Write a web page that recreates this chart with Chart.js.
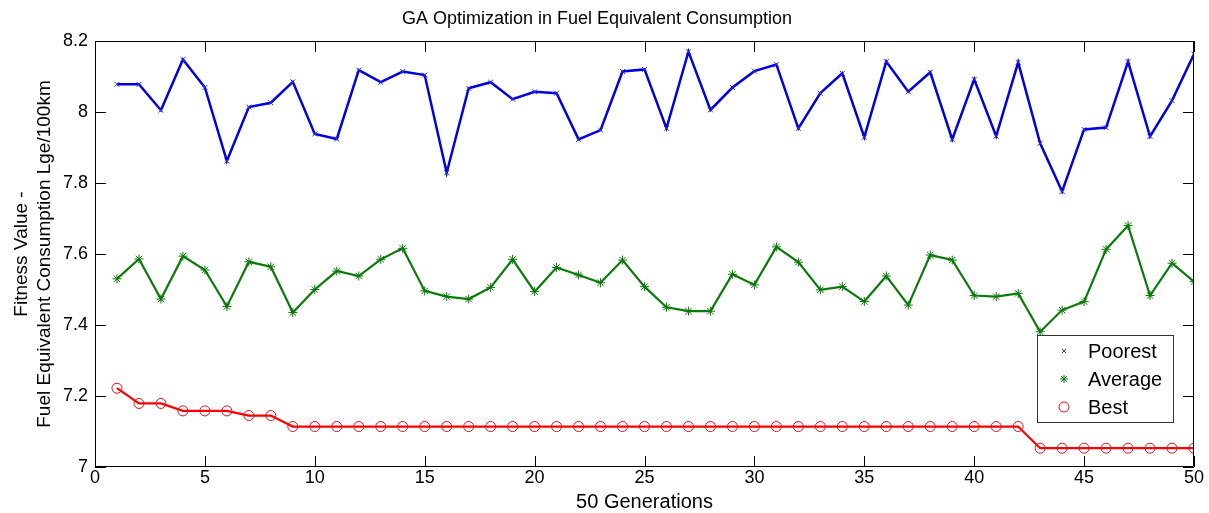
<!DOCTYPE html>
<html>
<head>
<meta charset="utf-8">
<title>GA Optimization in Fuel Equivalent Consumption</title>
<script src="https://cdn.jsdelivr.net/npm/chart.js@4.4.0/dist/chart.umd.min.js"></script>
<style>
  html, body { margin: 0; padding: 0; background: #fff; }
  #wrap { width: 1209px; height: 513px; position: relative; }
</style>
</head>
<body>
<div id="wrap"><canvas id="grafico"></canvas></div>
<script>
// datos
const generaciones = [1, 2, 3, 4, 5, 6, 7, 8, 9, 10, 11, 12, 13, 14, 15, 16, 17, 18, 19, 20, 21, 22, 23, 24, 25,
    26, 27, 28, 29, 30, 31, 32, 33, 34, 35, 36, 37, 38, 39, 40, 41, 42, 43, 44, 45, 46, 47, 48, 49, 50];

const peor = [8.078, 8.078, 8.005, 8.148, 8.069, 7.862, 8.014, 8.026, 8.085, 7.938,
    7.924, 8.118, 8.084, 8.114, 8.104, 7.829, 8.067, 8.084, 8.036, 8.057,
    8.053, 7.923, 7.949, 8.114, 8.120, 7.954, 8.170, 8.006, 8.069, 8.115,
    8.134, 7.954, 8.053, 8.109, 7.929, 8.142, 8.057, 8.112, 7.923, 8.092,
    7.932, 8.140, 7.912, 7.776, 7.951, 7.956, 8.142, 7.931, 8.032, 8.163];

const promedio = [7.530, 7.586, 7.473, 7.594, 7.555, 7.452, 7.578, 7.564, 7.435, 7.500,
    7.552, 7.538, 7.585, 7.616, 7.496, 7.480, 7.473, 7.506, 7.585, 7.494,
    7.562, 7.541, 7.519, 7.583, 7.508, 7.450, 7.439, 7.439, 7.543, 7.513,
    7.620, 7.577, 7.499, 7.508, 7.466, 7.538, 7.456, 7.597, 7.583, 7.483,
    7.480, 7.489, 7.381, 7.442, 7.466, 7.613, 7.680, 7.483, 7.574, 7.522];

const mejor = [7.222, 7.179, 7.179, 7.158, 7.158, 7.158, 7.145, 7.145, 7.114, 7.114,
    7.114, 7.114, 7.114, 7.114, 7.114, 7.114, 7.114, 7.114, 7.114, 7.114,
    7.114, 7.114, 7.114, 7.114, 7.114, 7.114, 7.114, 7.114, 7.114, 7.114,
    7.114, 7.114, 7.114, 7.114, 7.114, 7.114, 7.114, 7.114, 7.114, 7.114,
    7.114, 7.114, 7.053, 7.053, 7.053, 7.053, 7.053, 7.053, 7.053, 7.053];

const ticksX = [0, 5, 10, 15, 20, 25, 30, 35, 40, 45, 50];
const ticksY = [7, 7.2, 7.4, 7.6, 7.8, 8, 8.2];

const fuente = 'Arial, "Liberation Sans", Helvetica, sans-serif';

function puntos(valores) {
    return valores.map((v, i) => ({ x: generaciones[i], y: v }));
}

// caja estilo matlab con ticks hacia adentro
const cajaEjes = {
    id: 'cajaEjes',
    afterDatasetsDraw(chart) {
        const { ctx, chartArea: a, scales } = chart;
        const largo = 11;
        ctx.save();
        ctx.strokeStyle = '#000';
        ctx.lineWidth = 1;
        ctx.beginPath();
        ctx.rect(a.left + 0.5, a.top + 0.5, a.right - a.left - 1, a.bottom - a.top - 1);
        ticksX.forEach(t => {
            const px = Math.round(scales.x.getPixelForValue(t)) + 0.5;
            ctx.moveTo(px, a.bottom);
            ctx.lineTo(px, a.bottom - largo);
            ctx.moveTo(px, a.top);
            ctx.lineTo(px, a.top + largo);
        });
        ticksY.forEach(t => {
            const py = Math.round(scales.y.getPixelForValue(t)) + 0.5;
            ctx.moveTo(a.left, py);
            ctx.lineTo(a.left + largo, py);
            ctx.moveTo(a.right, py);
            ctx.lineTo(a.right - largo, py);
        });
        ctx.stroke();
        ctx.restore();
    }
};

// leyenda dentro del area, abajo a la derecha
const leyenda = {
    id: 'leyenda',
    afterDraw(chart) {
        const { ctx, chartArea: a } = chart;
        const ancho = 136, alto = 87;
        const x0 = a.right - 21 - ancho;
        const y0 = a.bottom - 45 - alto;
        ctx.save();
        ctx.fillStyle = '#fff';
        ctx.fillRect(x0, y0, ancho, alto);
        ctx.strokeStyle = '#333';
        ctx.lineWidth = 1;
        ctx.strokeRect(x0 + 0.5, y0 + 0.5, ancho, alto);
        ctx.font = '20px ' + fuente;
        ctx.textBaseline = 'middle';
        ctx.textAlign = 'left';
        chart.data.datasets.forEach((ds, i) => {
            const yy = y0 + 16 + i * 28;
            ctx.strokeStyle = ds.pointBorderColor;
            ctx.fillStyle = 'rgba(0,0,0,0)';
            ctx.lineWidth = 1;
            Chart.helpers.drawPoint(ctx, {
                pointStyle: ds.pointStyle,
                radius: ds.legendRadius,
                borderWidth: 1,
                rotation: 0
            }, x0 + 27, yy);
            ctx.fillStyle = '#000';
            ctx.fillText(ds.label, x0 + 51, yy + 1);
        });
        ctx.restore();
    }
};

function crearGrafico() {
    const ctx = document.getElementById('grafico').getContext('2d');
    return new Chart(ctx, {
        type: 'line',
        data: {
            datasets: [
                {
                    label: 'Poorest',
                    data: puntos(peor),
                    borderColor: '#0000e0',
                    borderWidth: 2.5,
                    pointStyle: 'crossRot',
                    pointRadius: 3.5,
                    pointBorderWidth: 1,
                    pointBorderColor: '#3333cc',
                    legendRadius: 3,
                    tension: 0
                },
                {
                    label: 'Average',
                    data: puntos(promedio),
                    borderColor: '#0a7a0a',
                    borderWidth: 2.2,
                    pointStyle: 'star',
                    pointRadius: 4.5,
                    pointBorderWidth: 1,
                    pointBorderColor: '#0a7a0a',
                    legendRadius: 4,
                    tension: 0
                },
                {
                    label: 'Best',
                    data: puntos(mejor),
                    borderColor: '#ff0000',
                    borderWidth: 2.2,
                    pointStyle: 'circle',
                    pointRadius: 5,
                    pointBorderWidth: 1,
                    pointBorderColor: '#e0101a',
                    pointBackgroundColor: 'rgba(0,0,0,0)',
                    legendRadius: 5,
                    tension: 0
                }
            ]
        },
        options: {
            responsive: true,
            maintainAspectRatio: false,
            animation: false,
            layout: { padding: { left: 0, right: 15, top: 0, bottom: 0 } },
            plugins: {
                legend: { display: false },
                tooltip: { enabled: false },
                title: {
                    display: true,
                    text: 'GA Optimization in Fuel Equivalent Consumption',
                    color: '#000',
                    font: { family: fuente, size: 18, weight: 'normal' },
                    padding: { top: 8, bottom: 11.4 }
                }
            },
            scales: {
                x: {
                    type: 'linear',
                    min: 0,
                    max: 50,
                    afterFit: s => { s.height = 46; },
                    afterBuildTicks: s => { s.ticks = ticksX.map(v => ({ value: v })); },
                    grid: { display: false, drawTicks: false },
                    border: { display: false },
                    ticks: {
                        color: '#000',
                        padding: 0,
                        maxRotation: 0,
                        font: { family: fuente, size: 18 }
                    },
                    title: {
                        display: true,
                        text: '50 Generations',
                        color: '#000',
                        padding: { top: 0, bottom: -1 },
                        font: { family: fuente, size: 20 }
                    }
                },
                y: {
                    type: 'linear',
                    min: 7,
                    max: 8.2,
                    afterFit: s => { s.width = 95; },
                    afterBuildTicks: s => { s.ticks = ticksY.map(v => ({ value: v })); },
                    grid: { display: false, drawTicks: false },
                    border: { display: false },
                    ticks: {
                        color: '#000',
                        padding: 7,
                        font: { family: fuente, size: 18 },
                        callback: v => String(Number(v.toFixed(1)))
                    },
                    title: {
                        display: true,
                        text: ['Fitness Value -', 'Fuel Equivalent Consumption Lge/100km'],
                        color: '#000',
                        padding: { top: 11, bottom: 0 },
                        font: { family: fuente, size: 19, lineHeight: 1.18 }
                    }
                }
            }
        },
        plugins: [cajaEjes, leyenda]
    });
}

document.addEventListener('DOMContentLoaded', function () {
    crearGrafico();
});
</script>
</body>
</html>
